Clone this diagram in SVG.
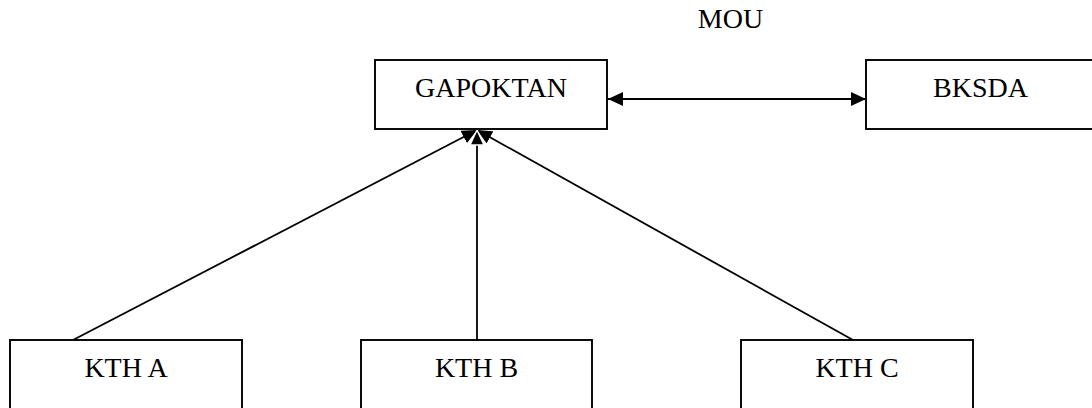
<svg xmlns="http://www.w3.org/2000/svg" width="1092" height="408" viewBox="0 0 1092 408">
<style>
.box{fill:#fff;stroke:#000;stroke-width:1.9}
.lbl{font-family:"Liberation Serif","Times New Roman",serif;font-size:28px;fill:#000;text-anchor:middle}
.ln{stroke:#000;stroke-width:1.8;fill:none}
</style>
<defs>
<marker id="ah" viewBox="0 0 15 14" refX="15" refY="7" markerWidth="15" markerHeight="14" markerUnits="userSpaceOnUse" orient="auto-start-reverse">
<path d="M0,0 L15,7 L0,14 Z" fill="#000"/>
</marker>
<marker id="ahw" viewBox="-2 -2 19 18" refX="15" refY="7" markerWidth="19" markerHeight="18" markerUnits="userSpaceOnUse" orient="auto">
<path d="M0,0 L15,7 L0,14 Z" fill="#000" stroke="#fff" stroke-width="1.5"/>
</marker>
</defs>
<rect width="1092" height="408" fill="#fff"/>
<g id="connectors">
<line class="ln" x1="608" y1="99" x2="866" y2="99" marker-start="url(#ah)" marker-end="url(#ah)"/>
<line class="ln" x1="73" y1="340" x2="477" y2="130" marker-end="url(#ah)"/>
<line class="ln" x1="853" y1="340" x2="477" y2="130" marker-end="url(#ah)"/>
<line class="ln" x1="477" y1="340" x2="477" y2="130" marker-end="url(#ahw)"/>
</g>
<g id="mou-label"><text class="lbl" x="730.5" y="28">MOU</text></g>
<g id="gapoktan"><rect class="box" x="375" y="60" width="232" height="69"/><text class="lbl" x="491" y="97">GAPOKTAN</text></g>
<g id="bksda"><rect class="box" x="866" y="60" width="240" height="69"/><text class="lbl" x="980.5" y="97">BKSDA</text></g>
<g id="ktha"><rect class="box" x="10" y="340" width="232" height="80"/><text class="lbl" x="126" y="377">KTH A</text></g>
<g id="kthb"><rect class="box" x="361" y="340" width="231" height="80"/><text class="lbl" x="476.5" y="377">KTH B</text></g>
<g id="kthc"><rect class="box" x="741" y="340" width="232" height="80"/><text class="lbl" x="857" y="377">KTH C</text></g>
</svg>
